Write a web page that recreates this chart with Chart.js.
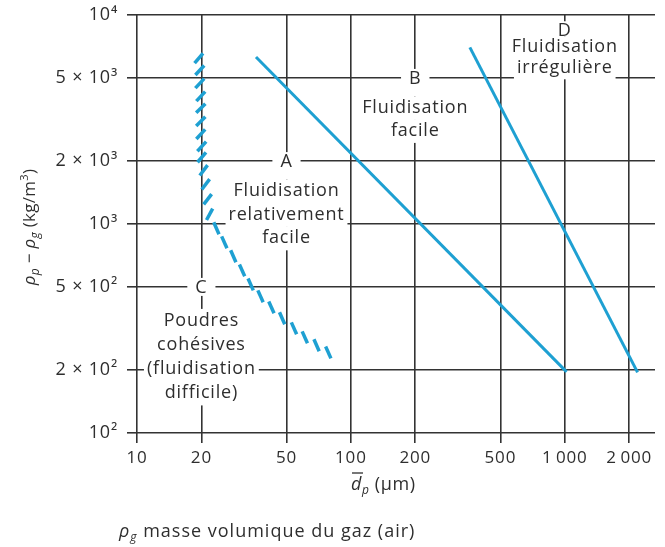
<!DOCTYPE html>
<html>
<head>
<meta charset="utf-8">
<script src="https://cdn.jsdelivr.net/npm/chart.js@4.4.0/dist/chart.umd.min.js"></script>
<style>
html, body { margin: 0; padding: 0; background: #fff; }
#wrap { width: 665px; height: 547px; position: relative; }
</style>
</head>
<body>
<div id="wrap"><canvas id="geldart"></canvas></div>
<script>
const xTicks = [10, 20, 50, 100, 200, 500, 1000, 2000];
const xTickLabels = ['10', '20', '50', '100', '200', '500', '1\u2009000', '2\u2009000'];
const yTicks = [100, 200, 500, 1000, 2000, 5000, 10000];
const yTickLabels = ['10²', '2 × 10²', '5 × 10²', '10³', '2 × 10³', '5 × 10³', '10⁴'];

// limite A / B
const abX = [36, 1020];
const abY = [6300, 196];
// limite B / D
const bdX = [360, 2190];
const bdY = [7000, 195];
// limite C / A (hachures)
const acX = [19.45, 19.66, 19.66, 19.87, 19.87, 19.87, 19.87, 20.08, 20.08,
             20.5, 20.95, 21.4, 21.85,
             23.5, 25.6, 28.2, 31, 34, 37.8, 42.5, 47.7, 54.2, 60.9, 69.1, 78.4];
const acY = [6210, 5440, 4710, 4080, 3580, 3100, 2690, 2350, 2085,
             1806, 1549, 1313, 1113,
             954, 817, 701, 600, 514, 451, 399, 354, 317, 287, 263, 243];

const zones = [
    { letter: 'A', x: 50, y: 2000, lines: ['Fluidisation', 'relativement', 'facile'], first: 30, step: 23.5, joined: true },
    { letter: 'B', x: 200, y: 5000, lines: ['Fluidisation', 'facile'], first: 30, step: 23, joined: true },
    { letter: 'C', x: 20, y: 500, lines: ['Poudres', 'cohésives', '(fluidisation', 'difficile)'], first: 34, step: 24, joined: false },
    { letter: 'D', x: 1000, y: 8450, lines: ['Fluidisation', 'irrégulière'], first: 17, step: 21, joined: true }
];

const blue = '#1ea0d2';
const ink = '#2e2e2e';
const FONT = '"Open Sans", "Noto Sans", sans-serif';

function drawParts(ctx, parts, x, y) {
    let cx = x;
    parts.forEach(p => {
        ctx.font = p[1] + ' ' + FONT;
        ctx.fillText(p[0], cx, y + (p[2] || 0));
        cx += ctx.measureText(p[0]).width;
    });
    return cx;
}

function partsWidth(ctx, parts) {
    let w = 0;
    parts.forEach(p => {
        ctx.font = p[1] + ' ' + FONT;
        w += ctx.measureText(p[0]).width;
    });
    return w;
}

const textPlugin = {
    id: 'geldartText',
    beforeDraw(chart) {
        chart.ctx.letterSpacing = '0.8px';
    },
    beforeDatasetsDraw(chart) {
        const ctx = chart.ctx;
        const sx = chart.scales.x, sy = chart.scales.y;
        ctx.save();
        ctx.letterSpacing = '0.8px';
        ctx.font = '18px ' + FONT;
        ctx.textAlign = 'center';
        ctx.textBaseline = 'middle';
        zones.forEach(z => {
            const cx = sx.getPixelForValue(z.x);
            const cy = sy.getPixelForValue(z.y);
            const lw = ctx.measureText(z.letter).width;
            const top = cy - 9;
            const bottom = z.joined ? cy + z.first - z.step / 2 : cy + 9;
            ctx.fillStyle = '#fff';
            ctx.fillRect(cx - lw / 2 - 8, top, lw + 16, bottom - top);
            z.lines.forEach((t, i) => {
                const w = ctx.measureText(t).width;
                const ly = cy + z.first + i * z.step;
                ctx.fillRect(cx - w / 2 - 3, ly - z.step / 2, w + 6, z.step + 0.5);
            });
            ctx.fillStyle = ink;
            ctx.fillText(z.letter, cx, cy + 1);
            z.lines.forEach((t, i) => {
                ctx.fillText(t, cx, cy + z.first + i * z.step);
            });
        });
        ctx.restore();
    },
    afterDraw(chart) {
        const ctx = chart.ctx;
        ctx.save();
        ctx.fillStyle = ink;
        ctx.textAlign = 'left';
        ctx.textBaseline = 'alphabetic';
        ctx.letterSpacing = '0.6px';

        // titre axe x
        const dEnd = drawParts(ctx, [['d', 'italic 18px']], 351, 490);
        ctx.strokeStyle = ink;
        ctx.lineWidth = 1.3;
        ctx.beginPath();
        ctx.moveTo(352, 473);
        ctx.lineTo(dEnd + 1, 473);
        ctx.stroke();
        drawParts(ctx, [['p', 'italic 12px', 4], [' (µm)', '18px']], dEnd, 490);

        // titre axe y
        ctx.letterSpacing = '0.3px';
        const yParts = [['ρ', 'italic 17px'], ['p', 'italic 12px', 4], [' − ', '17px'],
                        ['ρ', 'italic 17px'], ['g', 'italic 12px', 4], [' (kg/m', '17px'],
                        ['3', '11px', -7], [')', '17px']];
        const w = partsWidth(ctx, yParts);
        ctx.translate(35, 227);
        ctx.rotate(-Math.PI / 2);
        drawParts(ctx, yParts, -w / 2, 0);
        ctx.setTransform(1, 0, 0, 1, 0, 0);

        // légende
        ctx.letterSpacing = '1px';
        drawParts(ctx, [['ρ', 'italic 18px'], ['g', 'italic 12px', 4],
                        [' masse volumique du gaz (air)', '18px']], 119, 537);
        ctx.restore();
    }
};

const ctx = document.getElementById('geldart').getContext('2d');
const chart = new Chart(ctx, {
    type: 'line',
    data: {
        datasets: [
            {
                label: 'A/B',
                data: abX.map((x, i) => ({ x: x, y: abY[i] })),
                borderColor: blue,
                borderWidth: 3,
                pointRadius: 0
            },
            {
                label: 'B/D',
                data: bdX.map((x, i) => ({ x: x, y: bdY[i] })),
                borderColor: blue,
                borderWidth: 3,
                pointRadius: 0
            },
            {
                label: 'C/A',
                data: acX.map((x, i) => ({ x: x, y: acY[i] })),
                showLine: false,
                pointStyle: 'line',
                pointRadius: 6.5,
                pointBorderWidth: 3.5,
                pointBorderColor: blue,
                rotation: function (c) {
                    const i = c.dataIndex;
                    if (i === undefined) return 0;
                    const sx = c.chart.scales.x, sy = c.chart.scales.y;
                    const a = Math.max(i - 1, 0), b = Math.min(i + 1, acX.length - 1);
                    const dx = sx.getPixelForValue(acX[b]) - sx.getPixelForValue(acX[a]);
                    const dy = sy.getPixelForValue(acY[b]) - sy.getPixelForValue(acY[a]);
                    const t = Math.atan2(dy, dx) * 180 / Math.PI;
                    // hachures "/" sur la partie verticale, "\" sur la partie oblique
                    return t > 68 ? t + 45 : 66;
                }
            }
        ]
    },
    options: {
        responsive: true,
        maintainAspectRatio: false,
        animation: false,
        events: [],
        layout: { padding: { top: 15, left: 0, right: 0, bottom: 0 } },
        plugins: {
            legend: { display: false },
            tooltip: { enabled: false }
        },
        scales: {
            x: {
                type: 'logarithmic',
                min: 10,
                max: 2642,
                border: { display: false },
                grid: { color: '#333', lineWidth: 1.6, tickLength: 10, tickColor: '#333' },
                afterBuildTicks: scale => { scale.ticks = xTicks.map(v => ({ value: v })); },
                afterFit: scale => {
                    scale.height = 114;
                    scale.paddingLeft = 0;
                    scale.paddingRight = 0;
                },
                ticks: {
                    autoSkip: false,
                    maxRotation: 0,
                    padding: 5,
                    color: ink,
                    font: { family: FONT, size: 17 },
                    callback: v => xTickLabels[xTicks.indexOf(v)]
                }
            },
            y: {
                type: 'logarithmic',
                min: 100,
                max: 10000,
                border: { display: false },
                grid: { color: '#333', lineWidth: 1.6, tickLength: 10, tickColor: '#333' },
                afterBuildTicks: scale => { scale.ticks = yTicks.map(v => ({ value: v })); },
                afterFit: scale => {
                    scale.width = 137;
                    scale.paddingTop = 0;
                    scale.paddingBottom = 0;
                },
                ticks: {
                    autoSkip: false,
                    padding: 9,
                    color: ink,
                    font: { family: FONT, size: 18 },
                    callback: v => yTickLabels[yTicks.indexOf(v)]
                }
            }
        }
    },
    plugins: [textPlugin]
});
</script>
</body>
</html>
